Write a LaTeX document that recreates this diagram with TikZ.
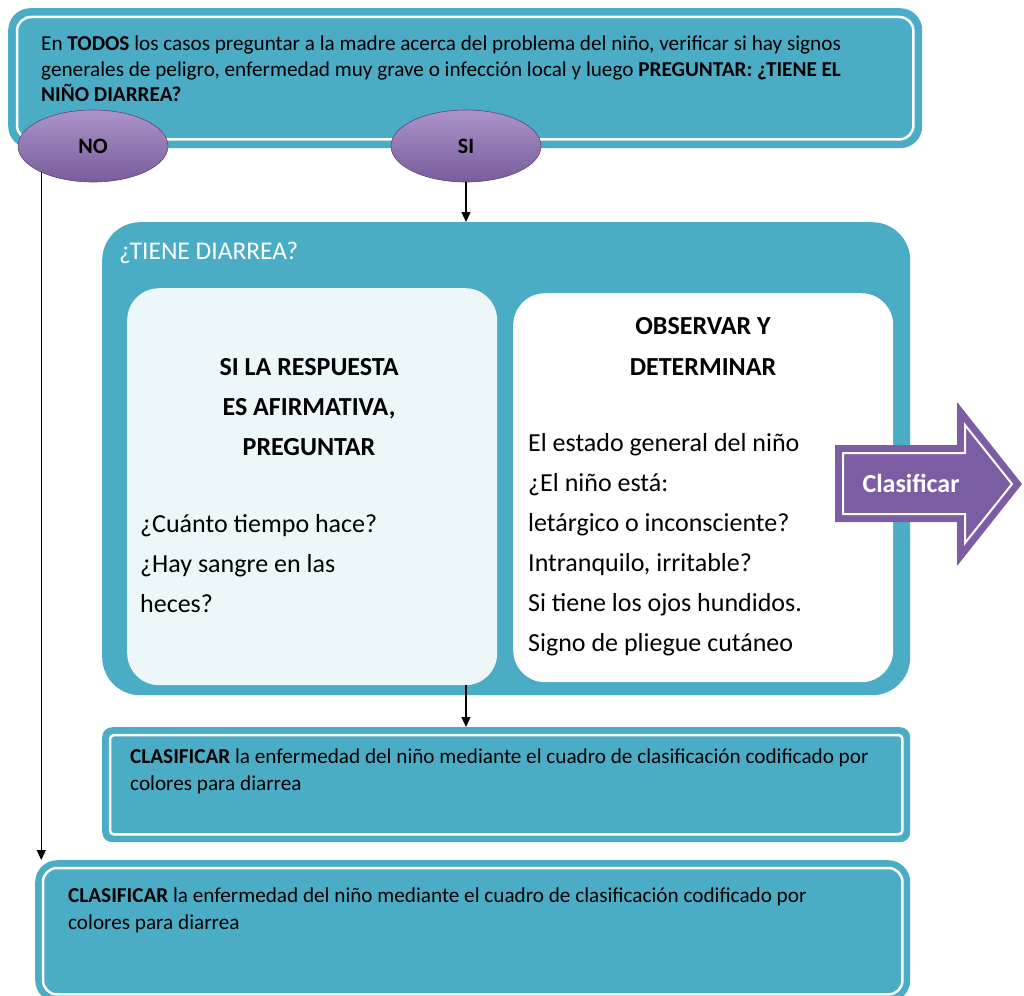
\documentclass[tikz,border=0pt]{standalone}
\usepackage{fontspec}
\setmainfont{Carlito}
\usepackage{tikz}
\usetikzlibrary{arrows.meta, shapes, positioning}
\usepackage{xcolor}
\definecolor{tealblue}{RGB}{75,172,198}
\definecolor{palecyan}{RGB}{237,246,249}
\definecolor{lilactop}{RGB}{172,148,202}
\definecolor{lilacbottom}{RGB}{120,92,156}
\definecolor{lilacedge}{RGB}{96,70,128}
\definecolor{darkviolet}{RGB}{124,93,164}
\tikzset{tealbox/.style={rectangle, fill=tealblue, inner sep=0pt, anchor=north west},
whiteline/.style={draw=white, line width=2.5pt},
lilacnode/.style={ellipse, top color=lilactop, bottom color=lilacbottom, draw=lilacedge, line width=0.6pt, inner sep=0pt, font=\fontsize{22}{24}\selectfont\bfseries, minimum width=150pt, minimum height=72pt}}

\begin{document}
\begin{tikzpicture}[x=1pt, y=-1pt,
        flecha/.style={-{Triangle[length=10pt, width=9pt]}, line width=1.2pt},
        smalltext/.style={anchor=base west, inner sep=0pt, font=\fontsize{21.2}{24}\selectfont},
        bigtext/.style={anchor=base west, inner sep=0pt, font=\fontsize{26}{30}\selectfont},
        bigtitle/.style={anchor=base, inner sep=0pt, font=\fontsize{26}{30}\selectfont\bfseries}
    ]
    \useasboundingbox (0,0) rectangle (1024,995);
    % Top box
    \node[tealbox, rounded corners=22pt, minimum width=914pt, minimum height=140pt] (pregunta) at (8,8) {};
    \draw[whiteline, rounded corners=14pt] ([shift={(9,9)}]pregunta.north west) rectangle ([shift={(-9,-9)}]pregunta.south east);
    \node[smalltext] (pregunta-1) at (41,51) {En \textbf{TODOS} los casos preguntar a la madre acerca del problema del niño, verificar si hay signos};
    \node[smalltext] (pregunta-2) at (41,77) {generales de peligro, enfermedad muy grave o infección local y luego \textbf{PREGUNTAR: ¿TIENE EL}};
    \node[smalltext] (pregunta-3) at (41,102) {\textbf{NIÑO DIARREA?}};
    % Answers
    \node[lilacnode] (no) at (93,146) {NO};
    \node[lilacnode] (si) at (466,146) {SI};
    % Diarrhea box
    \node[tealbox, rounded corners=38pt, minimum width=808pt, minimum height=473pt] (diarrea) at (102,222) {};
    \node[anchor=base west, inner sep=0pt, text=white, font=\fontsize{25.5}{28}\selectfont] (diarrea-titulo) at (119,259) {¿TIENE DIARREA?};
    \node[tealbox, fill=palecyan, rounded corners=32pt, minimum width=370pt, minimum height=397pt] (preguntar) at (127,288) {};
    \node[tealbox, fill=white, rounded corners=32pt, minimum width=380pt, minimum height=389pt] (observar) at (513,293) {};
    \foreach \y/\linea [count=\i] in {375/SI LA RESPUESTA, 415/{ES AFIRMATIVA,}, 455/PREGUNTAR}
        \node[bigtitle] (preguntar-titulo-\i) at (309,\y) {\linea};
    \foreach \y/\linea [count=\i] in {532/¿Cuánto tiempo hace?, 572/¿Hay sangre en las, 612/heces?}
        \node[bigtext] (preguntar-\i) at (140,\y) {\linea};
    \foreach \y/\linea [count=\i] in {334/OBSERVAR Y, 375/DETERMINAR}
        \node[bigtitle] (observar-titulo-\i) at (703,\y) {\linea};
    \foreach \y/\linea [count=\i] in {451/El estado general del niño, 491/¿El niño está:, 531/letárgico o inconsciente?, 571/{Intranquilo, irritable?}, 611/Si tiene los ojos hundidos., 651/Signo de pliegue cutáneo}
        \node[bigtext] (observar-\i) at (528,\y) {\linea};
    % Classify arrow
    \fill[darkviolet] (835,445) -- (957,445) -- (957,402) -- (1022,484) -- (957,566) -- (957,522) -- (835,522) -- cycle;
    \draw[whiteline, line width=2pt] (843,453) -- (965,453) -- (965,425) -- (1012,484) -- (965,543) -- (965,514) -- (843,514) -- cycle;
    \node[anchor=base, inner sep=0pt, text=white, font=\fontsize{26}{30}\selectfont\bfseries] (clasificar-flecha) at (911,492) {Clasificar};
    % Classify boxes
    \node[tealbox, rounded corners=10pt, minimum width=808pt, minimum height=115pt] (clasificar) at (102,727) {};
    \draw[whiteline, rounded corners=4pt] ([shift={(8,8)}]clasificar.north west) rectangle ([shift={(-8,-8)}]clasificar.south east);
    \node[smalltext] (clasificar-1) at (130,763) {\textbf{CLASIFICAR} la enfermedad del niño mediante el cuadro de clasificación codificado por};
    \node[smalltext] (clasificar-2) at (130,790) {colores para diarrea};
    \node[tealbox, rounded corners=22pt, minimum width=875pt, minimum height=142pt] (final) at (35,860) {};
    \draw[whiteline, rounded corners=14pt] ([shift={(8,8)}]final.north west) rectangle ([shift={(-8,-8)}]final.south east);
    \node[smalltext] (final-1) at (68,902) {\textbf{CLASIFICAR} la enfermedad del niño mediante el cuadro de clasificación codificado por};
    \node[smalltext] (final-2) at (68,929) {colores para diarrea};
    % Connectors
    \draw[flecha] (si.south) -- (si.south |- diarrea.north);
    \draw[flecha] (si.south |- preguntar.south) -- (si.south |- clasificar.north);
    \draw[flecha] (no.207) -- (no.207 |- final.north);
\end{tikzpicture}
\end{document}
